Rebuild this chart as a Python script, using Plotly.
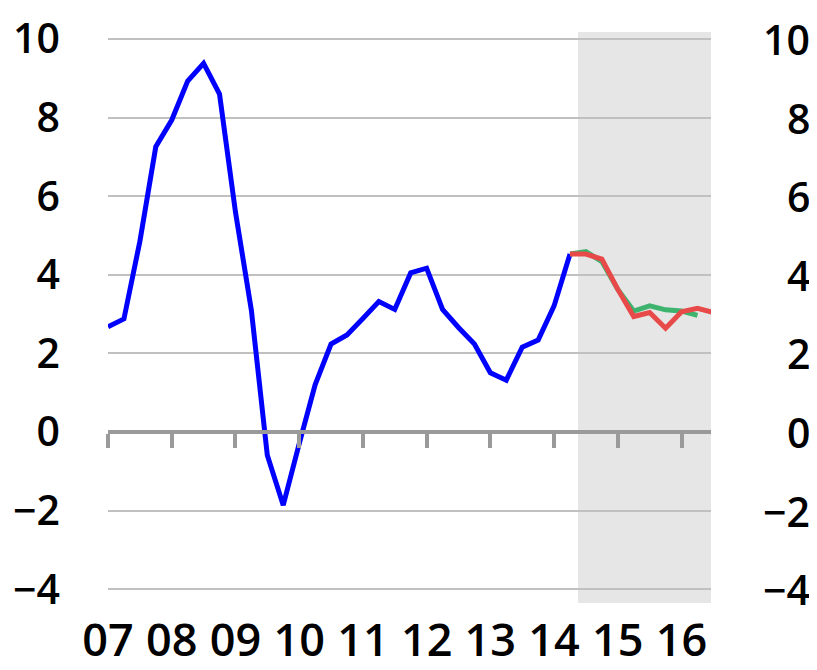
import plotly.graph_objects as go

# quarterly index, 0 = 2007Q1
blue_q = list(range(0, 30))
blue_vals = [2.68, 2.88, 4.85, 7.26, 7.94, 8.93, 9.38, 8.60, 5.60, 3.10,
             -0.59, -1.86, -0.30, 1.20, 2.24, 2.47, 2.89, 3.32, 3.12, 4.05,
             4.17, 3.12, 2.66, 2.24, 1.51, 1.32, 2.16, 2.34, 3.21, 4.53]

green_q = list(range(29, 38))
green_vals = [4.53, 4.59, 4.34, 3.63, 3.08, 3.21, 3.11, 3.08, 2.97]

red_q = list(range(29, 39))
red_vals = [4.53, 4.53, 4.40, 3.63, 2.94, 3.04, 2.64, 3.06, 3.15, 3.04]

year_ticks = [0, 4, 8, 12, 16, 20, 24, 28, 32, 36]
year_labels = ["07", "08", "09", "10", "11", "12", "13", "14", "15", "16"]
y_ticks = [-4, -2, 0, 2, 4, 6, 8, 10]

forecast_start = 29.5
x_range = [0, 37.85]
y_range = [-4.35, 10.18]

fig = go.Figure()

fig.add_trace(go.Scatter(x=blue_q, y=blue_vals, mode="lines",
                         line=dict(color="#0000FF", width=5)))
fig.add_trace(go.Scatter(x=green_q, y=green_vals, mode="lines",
                         line=dict(color="#3DB36E", width=5)))
fig.add_trace(go.Scatter(x=red_q, y=red_vals, mode="lines",
                         line=dict(color="#E84A4A", width=5)))

# shaded forecast period
fig.add_shape(type="rect", xref="x", yref="paper",
              x0=forecast_start, x1=x_range[1], y0=0, y1=1,
              fillcolor="#E6E6E6", line_width=0, layer="below")

label_font = dict(family="Open Sans", size=41, color="black", weight=600)

# right hand labels, right aligned
for v in y_ticks:
    fig.add_annotation(x=1.1675, xref="paper", y=v, yref="y",
                       text=str(v).replace("-", "\u2212"), showarrow=False,
                       xanchor="right", yanchor="middle", font=label_font)

zero_pos = (0 - y_range[0]) / (y_range[1] - y_range[0])

# page has an 8px body margin, so the figure is a little smaller than the window
fig.update_layout(
    width=809, height=662,
    margin=dict(l=100, r=106, t=24, b=67),
    plot_bgcolor="white", paper_bgcolor="white",
    showlegend=False,
    xaxis=dict(range=x_range, tickvals=year_ticks, ticktext=year_labels,
               anchor="free", position=zero_pos,
               showline=True, linecolor="#9A9A9A", linewidth=4,
               ticks="outside", ticklen=14, tickwidth=4, tickcolor="#9A9A9A",
               showgrid=False, zeroline=False,
               ticklabelstandoff=154, automargin=False,
               tickfont=dict(family="Open Sans", size=45, color="black",
                             weight=600)),
    yaxis=dict(range=y_range, tickvals=y_ticks,
               showgrid=True, gridcolor="#C0C0C0", gridwidth=2,
               zeroline=False, showline=False, ticks="",
               ticklabelstandoff=47, automargin=False,
               tickfont=label_font),
)

fig.write_html("out.html")
